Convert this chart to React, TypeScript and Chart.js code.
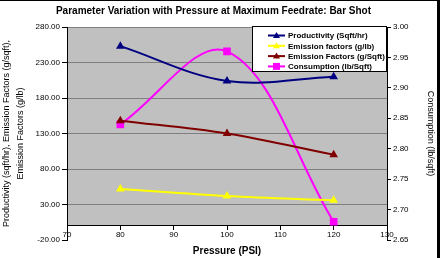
import React, { useEffect, useRef } from "react";
import { Chart, registerables } from "chart.js";

Chart.register(...registerables);

const pressures = [80, 100, 120];
const productivity = [253, 204, 210];
const emissionLb = [52, 42, 36];
const emissionSqft = [148, 130, 100];
const consumption = [2.84, 2.96, 2.68];

const seriesLabels = [
  "Productivity (Sqft/hr)",
  "Emission factors (g/lb)",
  "Emission Factors (g/Sqft)",
  "Consumption (lb/Sqft)",
];
const chartTitle = "Parameter Variation with Pressure at Maximum Feedrate: Bar Shot";
const xTitle = "Pressure (PSI)";
const leftTitle = ["Productivity (sqft/hr), Emission Factors (g/sqft),", "Emission Factors (g/lb)"];
const rightTitle = "Consumption (lb/sqft)";

const FONT = "'Liberation Sans', Arial, sans-serif";

const decor = {
  id: "decor",
  beforeDraw(chart: any) {
    const { ctx, chartArea } = chart;
    const y = chart.scales.y;
    ctx.save();
    ctx.fillStyle = "#ffffff";
    ctx.fillRect(0, 0, chart.width, chart.height);
    const zero = y.getPixelForValue(0);
    ctx.fillStyle = "#c0c0c0";
    ctx.fillRect(chartArea.left, chartArea.top, chartArea.right - chartArea.left, zero - chartArea.top);
    ctx.restore();
  },
  afterDraw(chart: any) {
    const { ctx, chartArea } = chart;
    ctx.save();
    // borders
    ctx.fillStyle = "#000";
    ctx.fillRect(437, 0, 3, chart.height);
    ctx.fillRect(0, 0, 440, 1);
    // title
    ctx.fillStyle = "#000";
    ctx.textAlign = "center";
    ctx.textBaseline = "middle";
    ctx.font = `bold 10px ${FONT}`;
    ctx.fillText(chartTitle, 213.5, 11);
    // x title
    ctx.fillText(xTitle, (chartArea.left + chartArea.right) / 2, 251);
    // left title
    ctx.font = `9px ${FONT}`;
    const cy = (chartArea.top + chartArea.bottom) / 2;
    ctx.save();
    ctx.translate(7, cy);
    ctx.rotate(-Math.PI / 2);
    ctx.fillText(leftTitle[0], 0, 0);
    ctx.fillText(leftTitle[1], 0, 14);
    ctx.restore();
    ctx.save();
    ctx.translate(430, cy);
    ctx.rotate(Math.PI / 2);
    ctx.fillText(rightTitle, 0, 0);
    ctx.restore();
    // legend
    const lx = 252, ly = 26, lw = chartArea.right - 252, lh = 46;
    ctx.fillStyle = "#fff";
    ctx.fillRect(lx, ly, lw, lh);
    ctx.strokeStyle = "#000";
    ctx.lineWidth = 1;
    ctx.strokeRect(lx + 0.5, ly + 0.5, lw - 1, lh - 1);
    ctx.font = `bold 8px ${FONT}`;
    ctx.textAlign = "left";
    chart.data.datasets.forEach((ds: any, i: number) => {
      const ry = ly + 9.5 + i * 10.3;
      ctx.strokeStyle = ds.borderColor;
      ctx.lineWidth = 2;
      ctx.beginPath();
      ctx.moveTo(268, ry);
      ctx.lineTo(285, ry);
      ctx.stroke();
      ctx.fillStyle = ds.pointBackgroundColor;
      if (ds.pointStyle === "rect") {
        ctx.fillRect(273, ry - 3.5, 7, 7);
      } else {
        ctx.beginPath();
        ctx.moveTo(276.5, ry - 3.5);
        ctx.lineTo(280, ry + 2.5);
        ctx.lineTo(273, ry + 2.5);
        ctx.closePath();
        ctx.fill();
      }
      ctx.fillStyle = "#000";
      ctx.fillText(ds.label, 288, ry + 0.5);
    });
    ctx.restore();
  },
};

export default function App() {
  const ref = useRef<HTMLCanvasElement>(null);
  useEffect(() => {
    document.body.style.margin = "0";
    const mk = (label: string, data: number[], color: string, style: string, axis: string, r: number) => ({
      label,
      data: pressures.map((p, i) => ({ x: p, y: data[i] })),
      borderColor: color,
      backgroundColor: color,
      pointBackgroundColor: color,
      pointBorderColor: color,
      pointStyle: style,
      pointRadius: r,
      borderWidth: 2,
      tension: 0.36,
      yAxisID: axis,
    });
    const chart = new Chart(ref.current as HTMLCanvasElement, {
      type: "line",
      data: {
        datasets: [
          mk(seriesLabels[0], productivity, "#000080", "triangle", "y", 3),
          mk(seriesLabels[1], emissionLb, "#ffff00", "triangle", "y", 3),
          mk(seriesLabels[2], emissionSqft, "#800000", "triangle", "y", 3),
          mk(seriesLabels[3], consumption, "#ff00ff", "rect", "y1", 4),
        ] as any,
      },
      options: {
        animation: false,
        responsive: false,
        layout: { padding: { top: 27, bottom: 18, left: 0, right: 0 } },
        plugins: { legend: { display: false }, title: { display: false }, tooltip: { enabled: false } },
        scales: {
          x: {
            type: "linear",
            position: { y: 0 } as any,
            min: 70,
            max: 130,
            ticks: { stepSize: 10, font: { family: FONT, size: 8 }, color: "#000", padding: 0, maxRotation: 0 },
            grid: { drawOnChartArea: false, tickLength: 4, color: "#000" },
            border: { color: "#000", width: 1 },
          },
          y: {
            position: "left",
            min: -20,
            max: 280,
            ticks: {
              stepSize: 50,
              font: { family: FONT, size: 8 },
              color: "#000",
              padding: 2,
              callback: (v: any) => Number(v).toFixed(2),
            },
            grid: {
              color: (c: any) => (c.tick && c.tick.value < 0 ? "rgba(0,0,0,0)" : "#808080"),
              tickColor: "#000",
              tickLength: 5,
            },
            border: { color: "#000", width: 1 },
            afterFit: (s: any) => {
              s.width = 67;
            },
          },
          y1: {
            position: "right",
            min: 2.65,
            max: 3.0,
            ticks: {
              stepSize: 0.05,
              font: { family: FONT, size: 8 },
              color: "#000",
              padding: 2,
              callback: (v: any) => Number(v).toFixed(2),
            },
            grid: { drawOnChartArea: false, tickColor: "#000", tickLength: 4 },
            border: { color: "#000", width: 1 },
            afterFit: (s: any) => {
              s.width = 55;
            },
          },
        },
      },
      plugins: [decor],
    });
    return () => chart.destroy();
  }, []);
  return (
    <div style={{ position: "relative", width: 442, height: 258 }}>
      <canvas ref={ref} width={442} height={258} style={{ display: "block", width: 442, height: 258 }} />
    </div>
  );
}
